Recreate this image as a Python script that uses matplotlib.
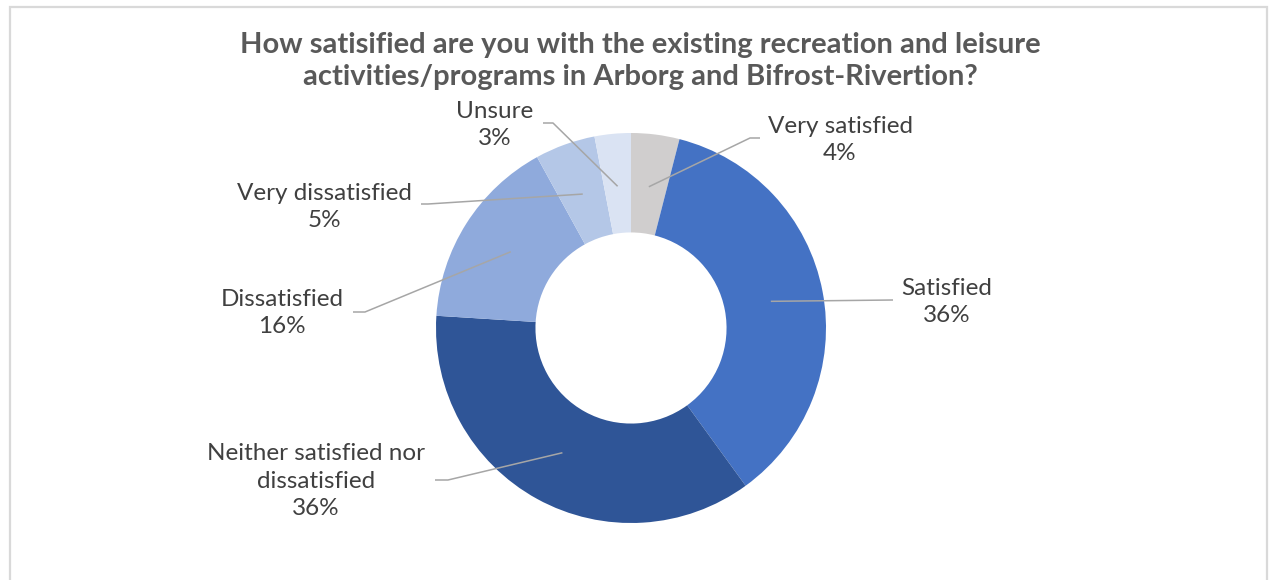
import numpy as np
import matplotlib
matplotlib.use("Agg")
import matplotlib.pyplot as plt
from matplotlib.patches import Rectangle

# datos de la encuesta
categorias = ["Very satisfied", "Satisfied", "Neither satisfied nor\ndissatisfied",
              "Dissatisfied", "Very dissatisfied", "Unsure"]
porcentajes = [4, 36, 36, 16, 5, 3]
colores = ["#D0CECE", "#4472C4", "#2F5597", "#8FAADC", "#B4C7E7", "#DAE3F3"]
titulo = ("How satisified are you with the existing recreation and leisure\n"
          "activities/programs in Arborg and Bifrost-Rivertion?")

W, H = 1269, 580
CX, CY, R = 631, 328, 195  # centro y radio del donut en pixeles


def px(x, y):
    # pixel de la imagen -> coordenadas de datos del eje
    return (x - CX) / R, (CY - y) / R


# posicion del texto y codo de la linea guia (pixeles)
etiquetas_pos = [
    ((840, 140), (750, 138), (760, 138)),
    ((947, 302), (893, 300), (893, 300)),
    ((316, 481), (448, 480), (435, 480)),
    ((282, 313), (365, 312), (353, 312)),
    ((324, 207), (428, 204), (421, 204)),
    ((495, 125), (553, 123), (543, 123)),
]

fig = plt.figure(figsize=(W / 100, H / 100), dpi=100)
fig.patches.append(Rectangle((10 / W, -0.05), 1257 / W, 1.05 - 7 / H,
                             transform=fig.transFigure, fill=False,
                             edgecolor="#D9D9D9", linewidth=1.6))

ax = fig.add_axes([(CX - R) / W, (H - CY - R) / H, 2 * R / W, 2 * R / H])
wedges, _ = ax.pie(porcentajes, colors=colores, startangle=90, counterclock=False,
                   radius=1, wedgeprops=dict(width=0.51, linewidth=0))
ax.set_xlim(-1, 1)
ax.set_ylim(-1, 1)
ax.set_aspect("equal")
ax.axis("off")

for w, cat, pct, (tpos, codo, fin) in zip(wedges, categorias, porcentajes, etiquetas_pos):
    ang = np.deg2rad((w.theta1 + w.theta2) / 2)
    x0, y0 = 0.73 * np.cos(ang), 0.73 * np.sin(ang)
    cx, cy = px(*codo)
    fx, fy = px(*fin)
    ax.plot([x0, cx, fx], [y0, cy, fy], color="#A6A6A6", linewidth=1.1,
            clip_on=False, solid_capstyle="butt")
    tx, ty = px(*tpos)
    ax.text(tx, ty, f"{cat}\n{pct}%", ha="center", va="center",
            multialignment="center", fontsize=17.5, color="#404040",
            family="Lato", fontweight="normal", linespacing=1.4)

fig.text(640 / W, 1 - 61 / H, titulo, ha="center", va="center",
         fontsize=21, fontweight="bold", color="#595959", family="Lato",
         linespacing=1.25)

fig.savefig("out.png", dpi=100)
